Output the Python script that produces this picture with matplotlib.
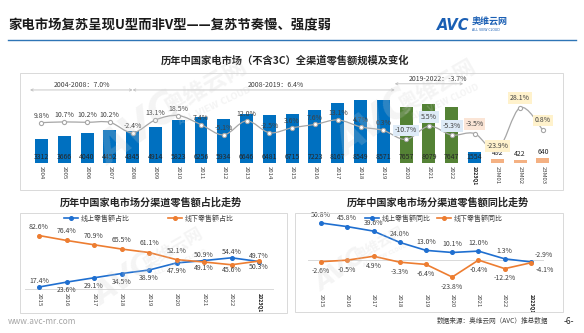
import numpy as np
import matplotlib
matplotlib.use("Agg")
import matplotlib.pyplot as plt
from matplotlib.path import Path
from matplotlib.patches import PathPatch, Rectangle
from matplotlib.lines import Line2D
from matplotlib.transforms import blended_transform_factory

plt.rcParams['font.family'] = ['Noto Sans CJK SC', 'DejaVu Sans']

W, H = 584, 333

# === 全渠道零售额（亿元）及同比 ===
periods = ['2004', '2005', '2006', '2007', '2008', '2009', '2010', '2011', '2012',
           '2013', '2014', '2015', '2016', '2017', '2018', '2019', '2020', '2021',
           '2022', '2023Q1', '23M01', '23M02', '23M03']
sales = [3312, 3666, 4040, 4452, 4345, 4914, 5823, 6256, 5934, 6646, 6481, 6715,
         7223, 8167, 8549, 8571, 7657, 8079, 7647, 1554, 492, 422, 640]
growth = [9.8, 10.7, 10.2, 10.2, -2.4, 13.1, 18.5, 7.4, -5.1, 12.0, -2.5, 3.6,
          7.6, 13.1, 4.7, 0.3, -10.7, 5.5, -5.3, -3.5, -23.9, 28.1, 0.8]

# 阶段复合增速
cagr_labels = ['2004-2008：7.0%', '2008-2019：6.4%', '2019-2022：-3.7%']

# === 分渠道 ===
ch_years = ['2015', '2016', '2017', '2018', '2019', '2020', '2021', '2022', '2023Q1']
online_share = [17.4, 23.6, 29.1, 34.5, 38.9, 47.9, 50.9, 54.4, 49.7]
offline_share = [82.6, 76.4, 70.9, 65.5, 61.1, 52.1, 49.1, 45.6, 50.3]
online_yoy = [50.8, 45.8, 39.6, 24.0, 13.0, 10.1, 12.0, 1.3, -2.9]
offline_yoy = [-2.6, -0.5, 4.9, -3.3, -6.4, -23.8, -0.4, -12.2, -4.1]

BLUE = '#0070c0'
GREEN = '#548235'
SALMON = '#f4b183'
LBLUE = '#1f6fd0'
ORANGE = '#ed7d31'
TXT = '#262626'


def fbox(x0, y0, x1, y1):
    return [x0 / W, 1 - y1 / H, (x1 - x0) / W, (y1 - y0) / H]


def fx(x):
    return x / W


def fy(y):
    return 1 - y / H


def smooth_path(xs, ys):
    # Catmull-Rom 转三次贝塞尔，做平滑折线
    pts = np.column_stack([xs, ys]).astype(float)
    n = len(pts)
    verts = [pts[0]]
    codes = [Path.MOVETO]
    for i in range(n - 1):
        p0 = pts[max(i - 1, 0)]
        p1 = pts[i]
        p2 = pts[i + 1]
        p3 = pts[min(i + 2, n - 1)]
        verts += [p1 + (p2 - p0) / 6, p2 - (p3 - p1) / 6, p2]
        codes += [Path.CURVE4] * 3
    return Path(verts, codes)


def style_ticks(a):
    for lab in a.get_xticklabels():
        if lab.get_text() == '2023Q1':
            lab.set_fontweight('bold')
            lab.set_fontsize(3.7)
            lab.set_color('#1a1a1a')


fig = plt.figure(figsize=(W / 100, H / 100), dpi=100)

# === 页眉 ===
fig.text(fx(8), fy(25), '家电市场复苏呈现U型而非V型——复苏节奏慢、强度弱',
         fontsize=9.6, fontweight='bold', color='#1a1a1a', va='center', ha='left')
fig.add_artist(Line2D([fx(8), fx(576)], [fy(40), fy(40)], color='#2e75b6', lw=1.0))
fig.text(fx(437), fy(25), 'AVC', fontsize=10.5, fontweight='bold', fontstyle='italic',
         color='#1a5fb4', family='DejaVu Sans', va='center', ha='left')
fig.text(fx(472), fy(22), '奥维云网', fontsize=6.5, fontweight='bold', color='#1a5fb4',
         va='center', ha='left')
fig.text(fx(486), fy(30), 'ALL VIEW CLOUD', fontsize=2.3, color='#1a5fb4',
         va='center', ha='center', family='DejaVu Sans')

# === 上图：规模及变化 ===
fig.text(fx(285), fy(60), '历年中国家电市场（不含3C）全渠道零售额规模及变化',
         fontsize=7.4, fontweight='bold', color=TXT, ha='center', va='center')
fig.add_artist(Rectangle((fx(20), fy(190)), (563 - 20) / W, (190 - 73) / H,
                         transform=fig.transFigure, fill=False, ec='#d9d9d9', lw=0.7))

ax = fig.add_axes(fbox(20, 75, 563, 163))
x = np.arange(len(periods))
colors = []
for p in periods:
    if p.startswith('23'):
        colors.append(SALMON)
    elif p in ('2020', '2021', '2022'):
        colors.append(GREEN)
    else:
        colors.append(BLUE)
ax.bar(x, sales, width=0.57, color=colors, zorder=2)
ax.set_xlim(-0.94, 22.88)
ax.set_ylim(0, 11970)
ax.set_yticks([])
for s in ax.spines.values():
    s.set_visible(False)
ax.patch.set_visible(False)
ax.set_xticks(x)
ax.set_xticklabels(periods, rotation=-90, fontsize=4.3, color='#404040')
ax.tick_params(axis='x', length=0, pad=2.5)
style_ticks(ax)

btrans = blended_transform_factory(ax.transData, ax.transAxes)
for i, v in enumerate(sales):
    if colors[i] == SALMON:
        ax.annotate(str(v), (i, v), xytext=(0, 1.5), textcoords='offset points',
                    ha='center', va='bottom', fontsize=5, color=TXT)
    else:
        ax.text(i, 0.07, str(v), transform=btrans, ha='center', va='center',
                fontsize=5, color=TXT, zorder=3)

ax2 = ax.twinx()
ax2.set_ylim(-39.4, 67.9)
ax2.set_yticks([])
for s in ax2.spines.values():
    s.set_visible(False)
ax2.add_patch(PathPatch(smooth_path(x, growth), fill=False, ec='#a6a6a6', lw=0.9, zorder=3))
ax2.plot(x, growth, 'o', ms=3, mfc='white', mec='#a6a6a6', mew=0.8, ls='none', zorder=4)
for i, g in enumerate(growth):
    p = periods[i]
    fc = None
    dy = 5
    if p in ('2020', '2021', '2022'):
        fc, dy = '#deebf7', 6.5
    elif p == '2023Q1':
        fc, dy = '#fbe5d6', 7
    elif p.startswith('23M'):
        fc, dy = '#fff2cc', 7
    if p == '23M01':
        dy = 3
    bbox = dict(boxstyle='square,pad=0.25', fc=fc, ec='none') if fc else None
    ax2.annotate(f'{g:.1f}%', (i, g), xytext=(0, dy), textcoords='offset points',
                 ha='center', va='center', fontsize=5, color='#404040', bbox=bbox, zorder=5)

# 阶段增速箭头
atrans = blended_transform_factory(ax.transData, ax.transAxes)
spans = [(-0.5, 4, 0.83, 0.886), (4, 15.5, 0.83, 0.886), (15.5, 18.5, 0.90, 0.955)]
for (x0, x1, ya, yt), lab in zip(spans, cagr_labels):
    ax.annotate('', xy=(x1, ya), xytext=(x0, ya), xycoords=atrans, textcoords=atrans,
                arrowprops=dict(arrowstyle='<->', color='#bfbfbf', lw=0.6,
                                shrinkA=0, shrinkB=0, mutation_scale=4))
text_x = [1.78, 10.3, 17.4]
for tx, (x0, x1, ya, yt), lab in zip(text_x, spans, cagr_labels):
    ax.text(tx, yt, lab, transform=atrans, ha='center', va='center', fontsize=5, color='#404040')


# === 下图 ===
def channel_panel(box, frame, title, title_x, ylim, s_on, s_off, names, on_pos, off_pos,
                  leg_x, col_gap, zero_line):
    fig.text(fx(title_x), fy(203), title, fontsize=7.3, fontweight='bold',
             color=TXT, ha='center', va='center')
    fig.add_artist(Rectangle((fx(frame[0]), fy(frame[3])), (frame[2] - frame[0]) / W,
                             (frame[3] - frame[1]) / H, transform=fig.transFigure,
                             fill=False, ec='#d9d9d9', lw=0.7))
    a = fig.add_axes(fbox(*box))
    a.patch.set_visible(False)
    xx = np.arange(len(ch_years))
    l1, = a.plot(xx, s_on, color=LBLUE, lw=1.2, marker='o', ms=2.6, zorder=3)
    l2, = a.plot(xx, s_off, color=ORANGE, lw=1.2, marker='o', ms=2.6, zorder=3)
    a.set_xlim(-0.5, 8.5)
    a.set_ylim(*ylim)
    a.set_yticks([])
    for s in a.spines.values():
        s.set_visible(False)
    if zero_line:
        a.axhline(0, color='#d9d9d9', lw=0.7, zorder=1)
    else:
        a.spines['bottom'].set_visible(True)
        a.spines['bottom'].set_color('#d9d9d9')
        a.spines['bottom'].set_linewidth(0.7)
    a.set_xticks(xx)
    a.set_xticklabels(ch_years, rotation=-90, fontsize=4.3, color='#404040')
    a.tick_params(axis='x', length=0, pad=3)
    style_ticks(a)
    for vals, pos in ((s_on, on_pos), (s_off, off_pos)):
        for i, v in enumerate(vals):
            dx, dy = pos(i)
            a.annotate(f'{v:.1f}%', (i, v), xytext=(dx, dy), textcoords='offset points',
                       ha='center', va='center', fontsize=5, color='#404040')
    a.legend([l1, l2], names, loc='center', bbox_to_anchor=(fx(leg_x), fy(218.5)),
             bbox_transform=fig.transFigure, ncol=2, frameon=False, fontsize=5,
             handlelength=2.0, columnspacing=col_gap, handletextpad=0.4, labelcolor='#404040')
    return a


channel_panel((25.25, 218, 272.75, 289), (20, 213, 287, 313),
              '历年中国家电市场分渠道零售额占比走势', 151, (14.9, 104.8),
              online_share, offline_share, ['线上零售额占比', '线下零售额占比'],
              lambda i: (0, 4) if i in (0, 6, 7, 8) else (0, -6),
              lambda i: (0, -4) if i >= 6 else (0, 6.5),
              149, 5.6, False)

channel_panel((307.9, 218, 544.1, 290), (295, 213, 563, 312),
              '历年中国家电市场分渠道零售额同比走势', 438, (-41.7, 57.7),
              online_yoy, offline_yoy, ['线上零售额同比', '线下零售额同比'],
              lambda i: (9, 5) if i == 8 else (0, 6),
              lambda i: (10, -5) if i == 8 else (0, -7),
              434, 0.9, True)


# === 水印 ===
def watermark(x, y, size):
    kw = dict(color='#d0d0d0', alpha=0.22, ha='center', va='center', zorder=20)
    fig.text(fx(x), fy(y), 'AVC', fontsize=size, fontweight='bold', fontstyle='italic',
             rotation=35, family='DejaVu Sans', **kw)
    fig.text(fx(x + size * 2.2), fy(y - size * 1.4), '奥维云网', fontsize=size * 0.55,
             fontweight='bold', rotation=30, **kw)
    fig.text(fx(x + size * 2.5), fy(y - size * 0.8), 'ALL VIEW CLOUD', fontsize=size * 0.2,
             fontweight='bold', rotation=25, family='DejaVu Sans', **kw)


watermark(140, 130, 30)
watermark(375, 125, 28)
watermark(125, 280, 22)
watermark(340, 270, 18)

# === 页脚 ===
fig.text(fx(8), fy(322), 'www.avc-mr.com', fontsize=6, color='#a6a6a6', ha='left', va='center')
fig.text(fx(548), fy(321), '数据来源：奥维云网（AVC）推总数据', fontsize=4.8, color='#404040',
         ha='right', va='center')
fig.text(fx(569), fy(321), '-6-', fontsize=6, color='#262626', ha='center', va='center')

fig.savefig('out.png', dpi=100)
